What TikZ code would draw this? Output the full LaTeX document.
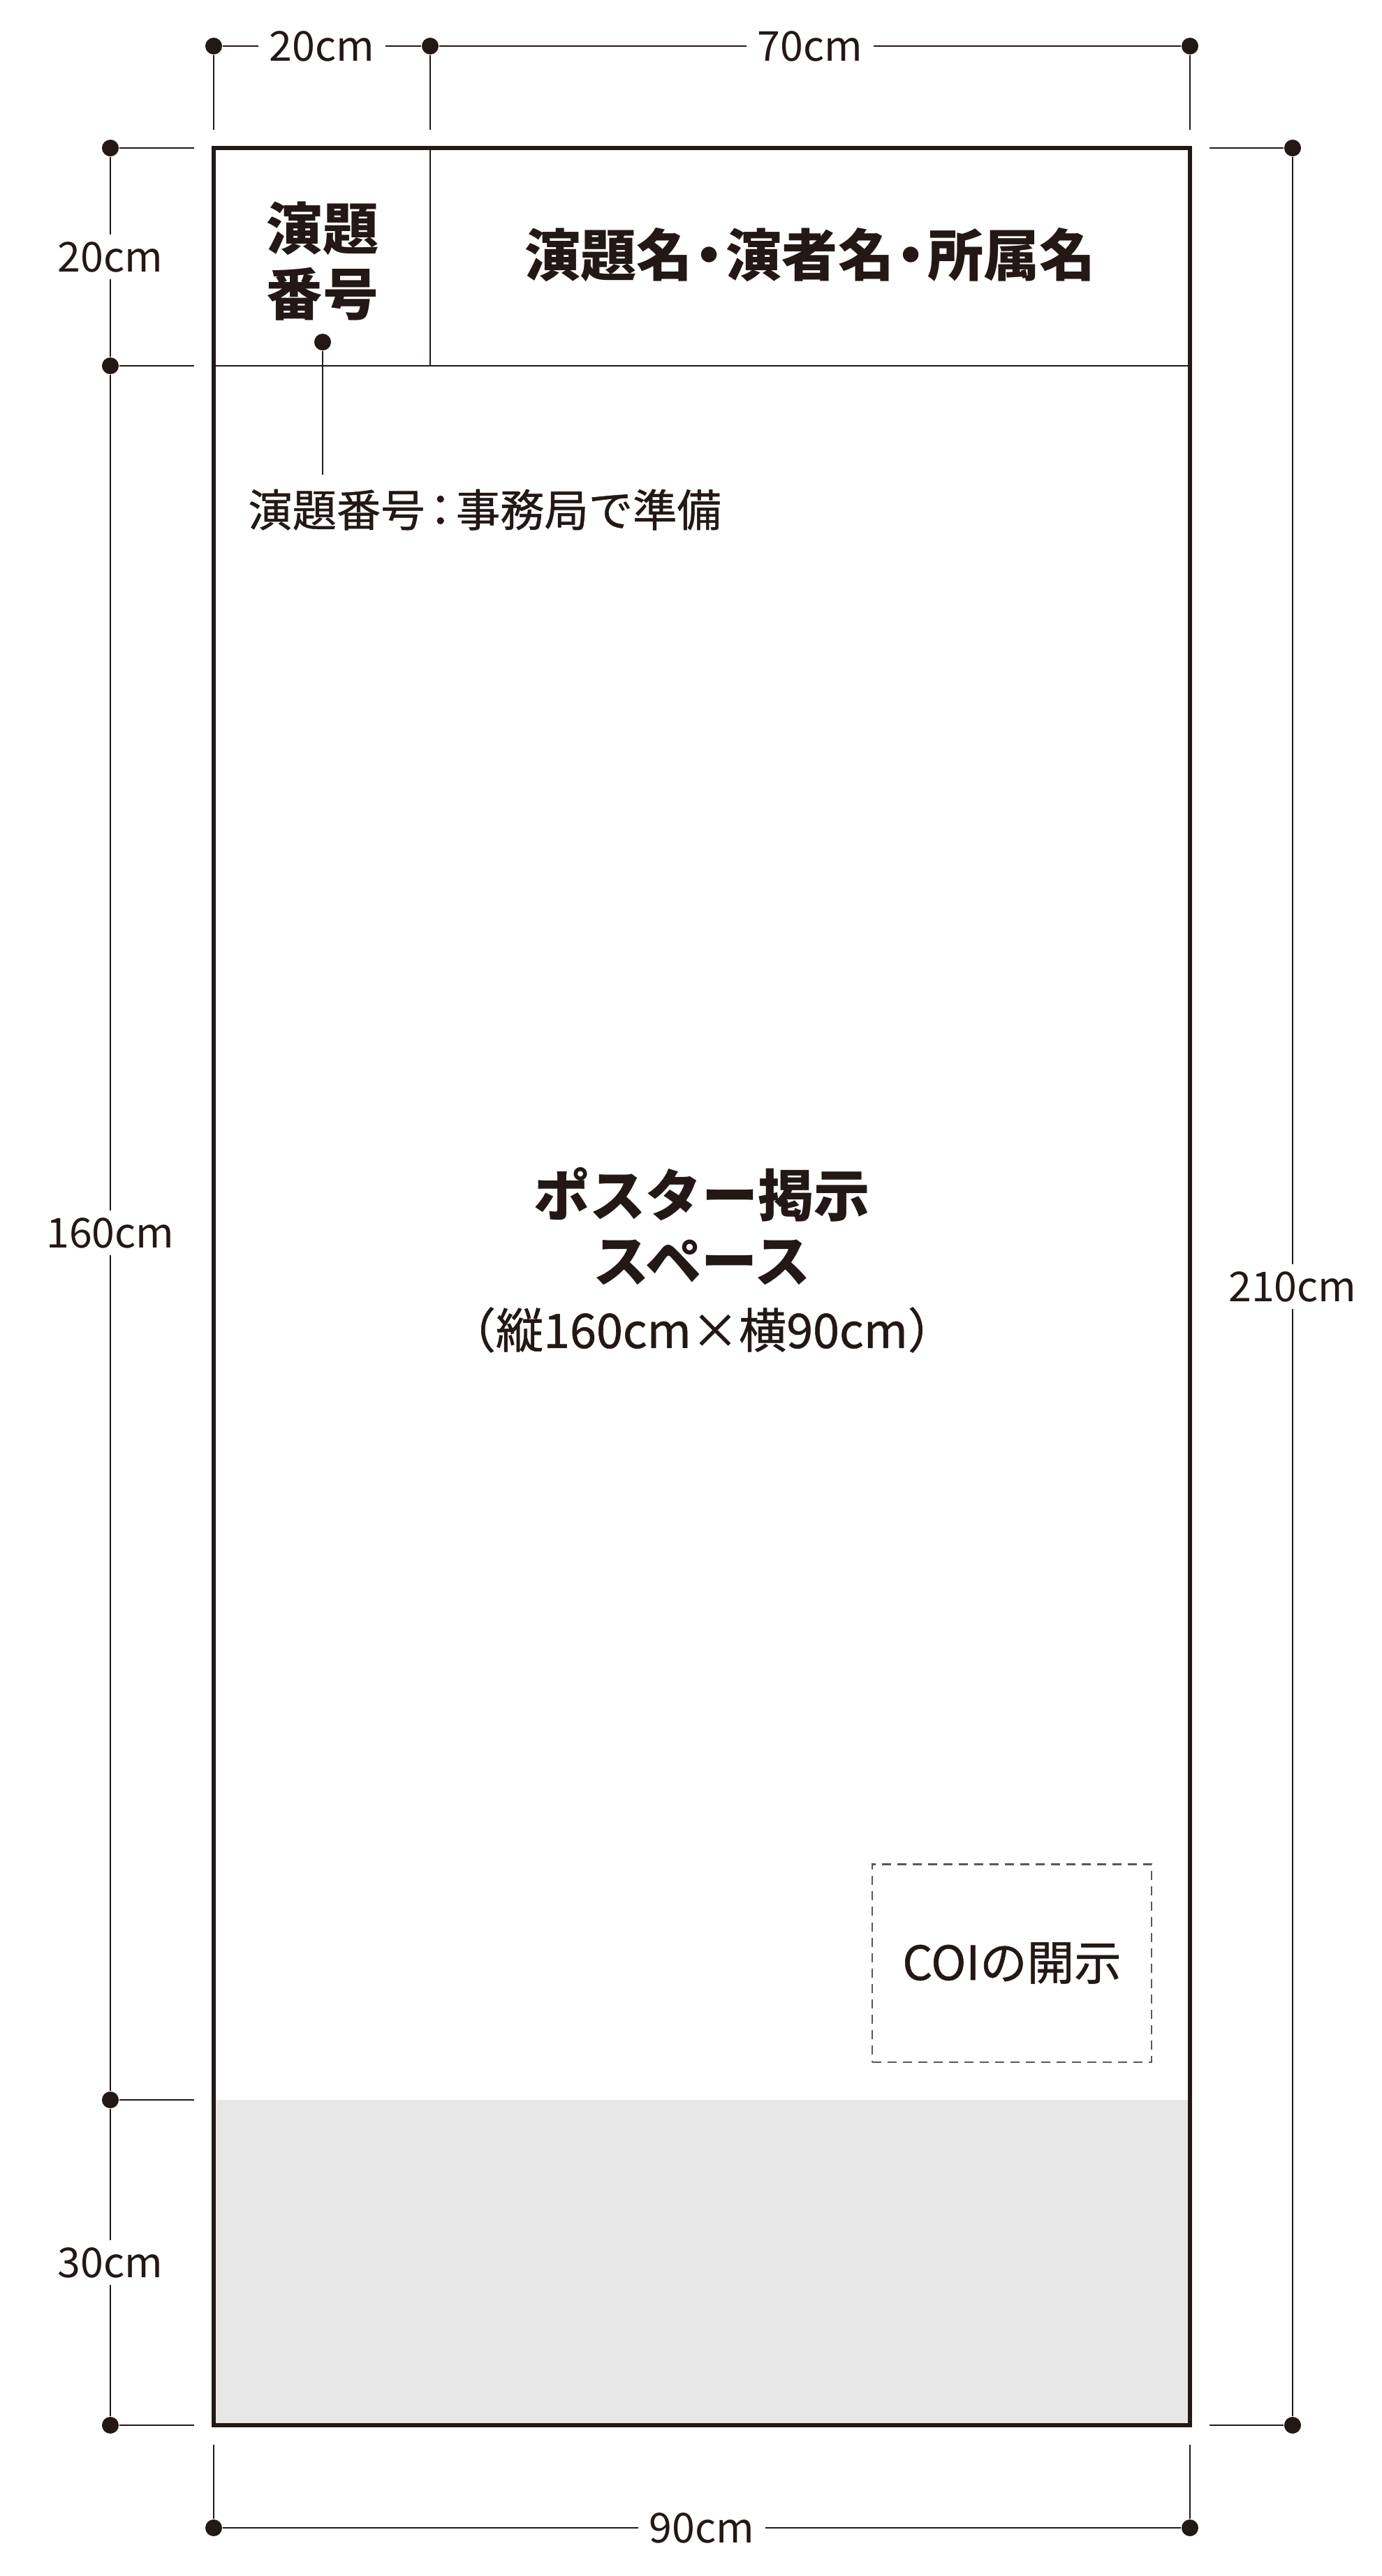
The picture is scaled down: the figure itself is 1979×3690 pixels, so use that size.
\documentclass[tikz,border=0pt]{standalone}
\usepackage{fontspec}
\setmainfont{Noto Sans CJK JP}
\newfontfamily\jpmed[FakeBold=0.8]{Noto Sans CJK JP}
\usepackage{tikz}
\definecolor{ink}{HTML}{231815}
\definecolor{band}{HTML}{E6E7E6}
\definecolor{boxgray}{HTML}{595757}
\newcommand{\nakaguro}{\kern-0.2em・\kern-0.2em}

\begin{document}
\begin{tikzpicture}[x=0.01cm, y=-0.01cm, every node/.style={text=ink},
    dimdot/.style={circle, fill=ink, inner sep=0pt, minimum size=0.24cm},
    dim/.style={draw=ink, line width=0.8pt},
    dimlabel/.style={fill=white, inner xsep=0.16cm, inner ysep=0.1cm, font=\fontsize{16.8pt}{20pt}\selectfont},
    heading/.style={align=center, font=\fontsize{22.8pt}{26.7pt}\selectfont\bfseries},
    note/.style={align=center, font=\fontsize{18pt}{21pt}\selectfont\jpmed}]
    \useasboundingbox (0,0) rectangle (1979,3690);

    % board
    \fill [band] (306,3008) rectangle (1704,3474);
    \draw [draw=ink, line width=1.5pt] (306,212) rectangle (1704,3474);
    \draw [dim] (306,524) -- (1704,524);
    \draw [dim] (616,212) -- (616,524);

    % top dimensions
    \node [dimdot] (t1) at (306,66) {};
    \node [dimdot] (t2) at (616,66) {};
    \node [dimdot] (t3) at (1704,66) {};
    \coordinate (e1) at (306,186);
    \coordinate (e2) at (616,186);
    \coordinate (e3) at (1704,186);
    \draw [dim] (t1) -- (e1);
    \draw [dim] (t2) -- (e2);
    \draw [dim] (t3) -- (e3);
    \draw [dim] (t1) -- (t2) node [midway, dimlabel] (w20) {20cm};
    \draw [dim] (t2) -- (t3) node [midway, dimlabel] (w70) {70cm};

    % left dimensions
    \node [dimdot] (l1) at (158,212) {};
    \node [dimdot] (l2) at (158,524) {};
    \node [dimdot] (l3) at (158,3008) {};
    \node [dimdot] (l4) at (158,3474) {};
    \coordinate (f1) at (278,212);
    \coordinate (f2) at (278,524);
    \coordinate (f3) at (278,3008);
    \coordinate (f4) at (278,3474);
    \draw [dim] (l1) -- (f1);
    \draw [dim] (l2) -- (f2);
    \draw [dim] (l3) -- (f3);
    \draw [dim] (l4) -- (f4);
    \draw [dim] (l1) -- (l2) node [midway, dimlabel] (h20) {20cm};
    \draw [dim] (l2) -- (l3) node [midway, dimlabel] (h160) {160cm};
    \draw [dim] (l3) -- (l4) node [midway, dimlabel] (h30) {30cm};

    % right dimension
    \node [dimdot] (r1) at (1851,212) {};
    \node [dimdot] (r2) at (1851,3474) {};
    \coordinate (g1) at (1732,212);
    \coordinate (g2) at (1732,3474);
    \draw [dim] (r1) -- (g1);
    \draw [dim] (r2) -- (g2);
    \draw [dim] (r1) -- (r2) node [midway, dimlabel] (h210) {210cm};

    % bottom dimension
    \node [dimdot] (b1) at (306,3621) {};
    \node [dimdot] (b2) at (1704,3621) {};
    \coordinate (k1) at (306,3502);
    \coordinate (k2) at (1704,3502);
    \draw [dim] (b1) -- (k1);
    \draw [dim] (b2) -- (k2);
    \draw [dim] (b1) -- (b2) node [midway, dimlabel] (w90) {90cm};

    % header
    \node [heading] (num) at (462,374) {演題\\番号};
    \node [heading] (ttl) at (1160,365) {演題名\nakaguro 演者名\nakaguro 所属名};
    \node [dimdot] (ld) at (462,490) {};
    \coordinate (le) at (462,680);
    \draw [draw=ink, line width=0.6pt] (ld) -- (le);
    \node [note] (lbl) at (694,730) {演題番号\kern-0.15em：\kern-0.15em事務局で準備};

    % poster space
    \node [heading] (ps) at (1005,1757) {ポスター掲示\\スペース};
    \node [note, font=\fontsize{19.4pt}{23pt}\selectfont\jpmed] (sz) at (1005,1905) {（縦160cm×横90cm）};
    \node [note, font=\fontsize{19.2pt}{23pt}\selectfont\jpmed, draw=boxgray, line width=0.6pt,
        dash pattern=on 0.13cm off 0.09cm, minimum width=4cm, minimum height=2.83cm] (coi) at (1449,2812) {COIの開示};
\end{tikzpicture}
\end{document}
